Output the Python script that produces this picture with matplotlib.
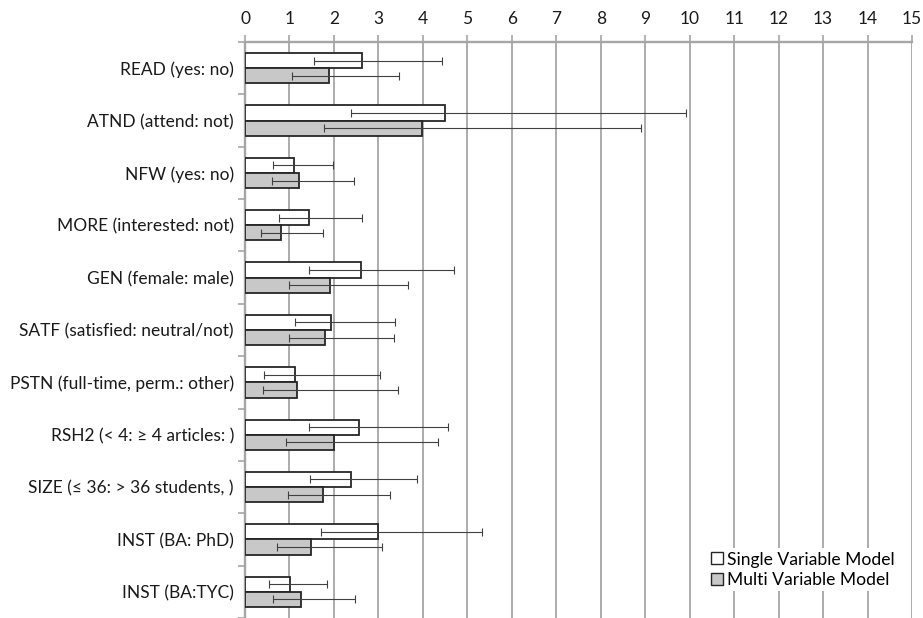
import numpy as np
import matplotlib.pyplot as plt
from matplotlib.lines import Line2D

# Odds ratios with 95% confidence intervals
categories = ['READ (yes: no)', 'ATND (attend: not)', 'NFW (yes: no)',
              'MORE (interested: not)', 'GEN (female: male)',
              'SATF (satisfied: neutral/not)', 'PSTN (full-time, perm.: other)',
              'RSH2 (< 4: \u2265 4 articles: )', 'SIZE (\u2264 36: > 36 students, )',
              'INST (BA: PhD)', 'INST (BA:TYC)']

single_or = [2.62, 4.49, 1.10, 1.43, 2.60, 1.94, 1.13, 2.57, 2.39, 3.00, 1.02]
single_lo = [1.56, 2.38, 0.62, 0.77, 1.44, 1.13, 0.43, 1.43, 1.47, 1.70, 0.55]
single_hi = [4.42, 9.92, 1.97, 2.64, 4.69, 3.37, 3.03, 4.56, 3.86, 5.32, 1.85]

multi_or = [1.89, 3.97, 1.21, 0.81, 1.91, 1.79, 1.17, 2.00, 1.76, 1.48, 1.25]
multi_lo = [1.05, 1.78, 0.60, 0.37, 1.00, 0.98, 0.40, 0.93, 0.96, 0.73, 0.62]
multi_hi = [3.46, 8.90, 2.45, 1.76, 3.66, 3.35, 3.45, 4.35, 3.25, 3.07, 2.48]

x_ticks = list(range(0, 16))

plt.rcParams['font.family'] = ['Lato', 'DejaVu Sans']

fig = plt.figure(figsize=(9.23, 6.18), dpi=100)
ax = fig.add_axes([245 / 923, 0.0, 667 / 923, 576 / 618])

grid_col = '#a6a6a6'
edge_col = '#262626'
err_col = '#404040'

y = np.arange(len(categories))
h = 0.29

ax.barh(y - h / 2, single_or, height=h, color='white', edgecolor=edge_col,
        linewidth=1.3, zorder=3)
ax.barh(y + h / 2, multi_or, height=h, color='#c8c8c8', edgecolor=edge_col,
        linewidth=1.3, zorder=3)

s_or = np.array(single_or)
m_or = np.array(multi_or)
ax.errorbar(s_or, y - h / 2,
            xerr=[s_or - np.array(single_lo), np.array(single_hi) - s_or],
            fmt='none', ecolor=err_col, elinewidth=0.8, capsize=3, capthick=0.8, zorder=4)
ax.errorbar(m_or, y + h / 2,
            xerr=[m_or - np.array(multi_lo), np.array(multi_hi) - m_or],
            fmt='none', ecolor=err_col, elinewidth=0.8, capsize=3, capthick=0.8, zorder=4)

ax.set_xlim(0, 15)
ax.set_ylim(len(categories) - 0.5, -0.5)

ax.xaxis.tick_top()
ax.set_xticks(x_ticks)
ax.tick_params(axis='x', direction='out', length=5, width=1.2, color=grid_col,
               labelsize=12.5, labelcolor='#1a1a1a', pad=6)
ax.grid(axis='x', color=grid_col, linewidth=1.3, zorder=0)

ax.set_yticks(y)
ax.set_yticklabels(categories)
ax.set_yticks(np.arange(-0.5, len(categories) + 0.5, 1), minor=True)
ax.tick_params(axis='y', which='major', length=0, labelsize=12.5, labelcolor='#1a1a1a', pad=8)
ax.tick_params(axis='y', which='minor', direction='out', length=5, width=1.2, color=grid_col)

for side in ['right', 'bottom']:
    ax.spines[side].set_visible(False)
for side in ['top', 'left']:
    ax.spines[side].set_color(grid_col)
    ax.spines[side].set_linewidth(1.7)

handles = [Line2D([], [], marker='s', linestyle='none', markersize=8.5,
                  markerfacecolor='white', markeredgecolor=edge_col, markeredgewidth=1),
           Line2D([], [], marker='s', linestyle='none', markersize=8.5,
                  markerfacecolor='#c8c8c8', markeredgecolor=edge_col, markeredgewidth=1)]
leg = ax.legend(handles, ['Single Variable Model', 'Multi Variable Model'],
                loc='lower right', bbox_to_anchor=(0.993, 0.031), frameon=True,
                fontsize=12.6, handlelength=0.6, handletextpad=0.3,
                labelspacing=0.25, borderpad=0.2)
leg.get_frame().set_facecolor('white')
leg.get_frame().set_edgecolor('none')
leg.get_frame().set_alpha(1)
leg.set_zorder(5)

fig.savefig('out.png', dpi=100)
